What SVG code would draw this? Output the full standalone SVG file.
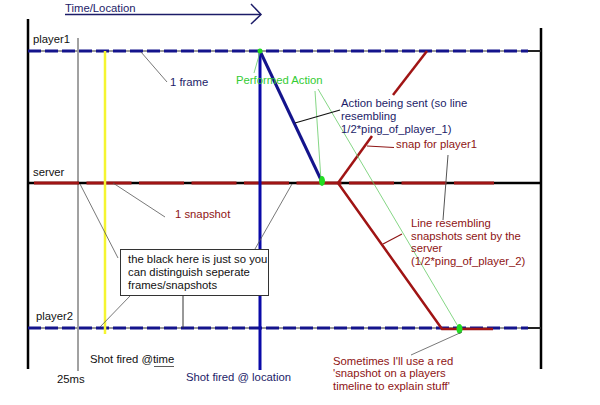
<svg xmlns="http://www.w3.org/2000/svg" width="600" height="405" viewBox="0 0 600 405">
<defs>
<style>
text{font-family:"Liberation Sans",Arial,sans-serif;font-size:11.3px}
.navy{fill:#1c1c68}
.red{fill:#8e1414}
.grn{fill:#33cc33}
.blk{fill:#111}
.lead{stroke:#555;stroke-width:0.8;fill:none}
.gl{stroke:#66cc66;stroke-width:0.8;fill:none}
.pl{stroke:#14148c;stroke-width:3;stroke-dasharray:13 4;fill:none}
</style>
</defs>
<rect width="600" height="405" fill="#fff"/>

<g id="axis">
<text x="65" y="12" class="navy" font-size="11px">Time/Location</text>
<line x1="65" y1="14.5" x2="261" y2="14.5" stroke="#1c1c68" stroke-width="1.5"/>
<polyline points="251,4 261,14.5 251,24" stroke="#1c1c68" stroke-width="1.5" fill="none"/>
</g>

<g id="frame">
<line x1="28" y1="19" x2="28" y2="369" stroke="#000" stroke-width="2.5"/>
<line x1="541" y1="28" x2="541" y2="369" stroke="#000" stroke-width="2.5"/>
<line x1="78" y1="38" x2="78" y2="371" stroke="#444" stroke-width="1"/>
</g>

<g id="player1">
<line x1="28" y1="51" x2="541" y2="51" stroke="#999" stroke-width="2"/>
<line x1="528" y1="51" x2="541" y2="51" stroke="#222" stroke-width="2"/>
<line x1="28" y1="51" x2="528" y2="51" class="pl"/>
<text x="33" y="43" class="blk">player1</text>
</g>

<g id="server">
<line x1="28" y1="183" x2="541" y2="183" stroke="#000" stroke-width="2.5"/>
<line x1="34" y1="183" x2="494" y2="183" stroke="#a01414" stroke-width="3" stroke-dasharray="45 7.5"/>
<text x="33" y="176" class="blk">server</text>
</g>

<g id="player2">
<line x1="28" y1="328" x2="541" y2="328" stroke="#999" stroke-width="2"/>
<line x1="528" y1="328" x2="541" y2="328" stroke="#222" stroke-width="2"/>
<line x1="28" y1="328" x2="528" y2="328" class="pl"/>
<text x="36" y="320" class="blk">player2</text>
</g>

<g id="connectors">
<line x1="105" y1="51" x2="105" y2="334" stroke="#f5f530" stroke-width="2.5"/>
<line x1="260" y1="51" x2="260" y2="370" stroke="#0a0aa8" stroke-width="3"/>
<line x1="260" y1="51" x2="322" y2="182" stroke="#14148c" stroke-width="3"/>
<line x1="427" y1="51" x2="393" y2="95" stroke="#a01414" stroke-width="2.5"/>
<line x1="372" y1="136" x2="338" y2="183" stroke="#a01414" stroke-width="2.5"/>
<polyline points="338,183 442,329 493,329" stroke="#a01414" stroke-width="2.5" fill="none"/>
<line x1="260" y1="52" x2="254" y2="73" class="gl"/>
<line x1="315" y1="91" x2="321" y2="180" class="gl"/>
<line x1="318" y1="89" x2="459" y2="328" class="gl"/>
<circle cx="260" cy="51" r="2.5" fill="#22dd22"/>
<ellipse cx="322" cy="181" rx="3" ry="5" fill="#22dd22"/>
<ellipse cx="459.5" cy="329" rx="3" ry="5" fill="#22dd22"/>
<line x1="141" y1="52" x2="167" y2="82" class="lead"/>
<line x1="113" y1="183" x2="165" y2="217" class="lead"/>
<line x1="80" y1="184" x2="118" y2="258" class="lead"/>
<line x1="292" y1="184" x2="255" y2="249" class="lead"/>
<line x1="130" y1="296" x2="100" y2="327" class="lead"/>
<line x1="183" y1="296" x2="183" y2="328" stroke="#333" stroke-width="1"/>
<line x1="295" y1="123" x2="340" y2="110" stroke="#111" stroke-width="1.2"/>
<line x1="367" y1="146" x2="394" y2="147.5" stroke="#8e1414" stroke-width="1"/>
<line x1="448" y1="155" x2="443" y2="220" stroke="#555" stroke-width="1"/>
<line x1="383" y1="244" x2="402" y2="234" stroke="#8e1414" stroke-width="1.2"/>
<line x1="462" y1="332" x2="411" y2="355" class="lead"/>
</g>

<g id="labels">
<text x="170" y="86" class="navy">1 frame</text>
<text x="236" y="84" class="grn">Performed Action</text>
<text x="341" y="107" class="navy">Action being sent (so line</text>
<text x="341" y="120" class="navy">resembling</text>
<text x="341" y="133" class="navy">1/2*ping_of_player_1)</text>
<text x="396" y="148" class="red">snap for player1</text>
<text x="175" y="218" class="red">1 snapshot</text>
<text x="411" y="227" class="red">Line resembling</text>
<text x="411" y="240" class="red">snapshots sent by the</text>
<text x="411" y="252" class="red">server</text>
<text x="411" y="265" class="red">(1/2*ping_of_player_2)</text>
<text x="333" y="365" class="red">Sometimes I'll use a red</text>
<text x="333" y="377" class="red">'snapshot on a players</text>
<text x="333" y="390" class="red">timeline to explain stuff'</text>
<text x="90" y="363" class="blk">Shot fired @time</text>
<line x1="154" y1="366.5" x2="174" y2="366.5" stroke="#333" stroke-width="0.8"/>
<text x="57" y="383" class="blk">25ms</text>
<text x="186" y="381" class="navy">Shot fired @ location</text>
</g>

<g id="note">
<rect x="120.5" y="249.5" width="148" height="46" fill="#fff" stroke="#333" stroke-width="1"/>
<text x="128" y="263" class="blk">the black here is just so you</text>
<text x="128" y="276" class="blk">can distinguish seperate</text>
<text x="128" y="289" class="blk">frames/snapshots</text>
</g>
</svg>
